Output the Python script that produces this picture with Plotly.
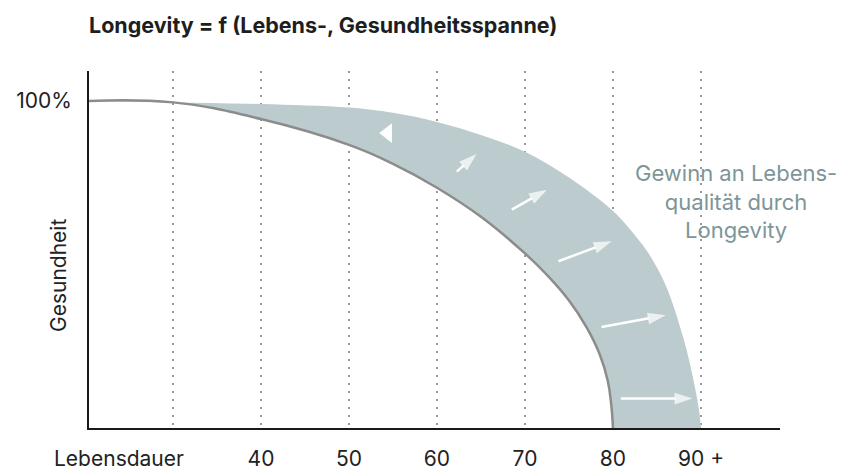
import plotly.graph_objects as go

# ---- data ----
lower_age = [20, 30, 40, 50, 55, 60, 65, 70, 72.5, 75, 77, 78.5, 79.4, 79.8, 80]
lower_health = [100, 99.6, 94.5, 86.6, 80.8, 73.5, 64.6, 53.4, 46.8, 39.0, 30.8, 22.5, 14.5, 7.2, 0]

upper_age = [30, 40, 50, 55, 60, 65, 70, 75, 80, 82, 84, 86, 88, 89.2, 89.8, 90]
upper_health = [99.6, 99.1, 98.0, 96.4, 93.6, 89.6, 84.5, 76.6, 66.4, 60.6, 53.6, 43.6, 27.5, 14.0, 5.0, 0]

grid_ages = [30, 40, 50, 60, 70, 80, 90]
grid_labels = ["", "40", "50", "60", "70", "80", "90 +"]

arrow_tail_x = [62.25, 68.5, 73.8, 78.7, 80.9]
arrow_tail_y = [78.4, 66.8, 51.0, 30.9, 9.0]
arrow_tip_x = [64.5, 72.5, 79.85, 86.0, 89.05]
arrow_tip_y = [83.8, 72.9, 57.1, 34.5, 9.0]

head_only_x = [54.4]
head_only_y = [90.2]

title_text = "Longevity = f (Lebens-, Gesundheitsspanne)"
x_title = "Lebensdauer"
y_title = "Gesundheit"
y_tick_vals = [100]
y_tick_text = ["100%"]
note_lines = ["Gewinn an Lebens-", "qualität durch", "Longevity"]

# ---- styling / layout ----
FONT = "Inter"
W, H = 843, 472
ML, MR, MT, MB = 89, 63, 71, 44
PW, PH = W - ML - MR, H - MT - MB
XR = [20.455, 98.98]
YR = [0, 109.2]


def px_x(p):
    return (p - ML) / PW


def px_y(p):
    return (H - MB - p) / PH


fig = go.Figure()

# lower health curve (drawn first so the band can fill to it)
fig.add_trace(go.Scatter(
    x=lower_age, y=lower_health, mode="lines",
    line=dict(color="#8c8c8a", width=2.5, shape="spline", smoothing=1.2),
    hoverinfo="skip", showlegend=False))

# band (gain in quality of life) between the two curves
fig.add_trace(go.Scatter(
    x=upper_age, y=upper_health, mode="lines",
    fill="tonexty", fillcolor="#bccbce",
    line=dict(width=0, shape="spline", smoothing=1.0),
    hoverinfo="skip", showlegend=False))

# white arrows
for tx, ty, hx, hy in zip(arrow_tail_x, arrow_tail_y, arrow_tip_x, arrow_tip_y):
    fig.add_trace(go.Scatter(
        x=[tx, hx], y=[ty, hy], mode="lines+markers",
        line=dict(color="white", width=2.5),
        marker=dict(symbol="arrow", angleref="previous", size=[0, 19],
                    color="white", line=dict(width=0)),
        hoverinfo="skip", showlegend=False))

fig.add_trace(go.Scatter(
    x=head_only_x, y=head_only_y, mode="markers",
    marker=dict(symbol="triangle-left", size=17, color="white", line=dict(width=0)),
    hoverinfo="skip", showlegend=False))

# axis arrow heads
xpx = (XR[1] - XR[0]) / PW
ypx = (YR[1] - YR[0]) / PH
fig.add_trace(go.Scatter(
    x=[XR[0] - 1 * xpx, XR[1] + 8 * xpx],
    y=[YR[1] + 9 * ypx, YR[0] - 1 * ypx],
    mode="markers", cliponaxis=False,
    marker=dict(symbol="arrow", angle=[0, 90], size=17, color="#1a1a1a", line=dict(width=0)),
    hoverinfo="skip", showlegend=False))

annotations = [
    dict(text=x_title, xref="paper", yref="paper",
         x=px_x(119), y=px_y(459), xanchor="center", yanchor="middle", showarrow=False,
         font=dict(size=21, color="#222222")),
    dict(text=y_title, xref="paper", yref="paper", textangle=-90,
         x=px_x(58), y=px_y(276), xanchor="center", yanchor="middle", showarrow=False,
         font=dict(size=21, color="#222222")),
    dict(text="<br>".join(note_lines), xref="paper", yref="paper",
         x=px_x(736), y=px_y(201), xanchor="center", yanchor="middle",
         showarrow=False, align="center",
         font=dict(size=22, color="#7d9598")),
]

fig.update_layout(
    width=W, height=H,
    margin=dict(l=ML, r=MR, t=MT, b=MB, autoexpand=False),
    paper_bgcolor="white", plot_bgcolor="white",
    font=dict(family=FONT, size=21, color="#222222"),
    title=dict(text="<b>" + title_text + "</b>", x=89 / W, xref="container", xanchor="left",
               y=1 - 25 / H, yref="container", yanchor="middle",
               font=dict(family=FONT, size=21.5, color="#1e1e1e")),
    xaxis=dict(range=XR, tickvals=grid_ages, ticktext=grid_labels, automargin=False,
               showgrid=True, gridcolor="#999999", gridwidth=2.2, griddash="2px,6px",
               zeroline=False, showline=True, linecolor="#1a1a1a", linewidth=2,
               ticks="outside", ticklen=11, tickcolor="rgba(0,0,0,0)",
               tickfont=dict(size=21, color="#222222"), fixedrange=True),
    yaxis=dict(range=YR, tickvals=y_tick_vals, ticktext=y_tick_text, automargin=False,
               showgrid=False, zeroline=False, showline=True, linecolor="#1a1a1a", linewidth=2,
               ticks="outside", ticklen=11, tickcolor="rgba(0,0,0,0)",
               tickfont=dict(size=21, color="#222222"), fixedrange=True),
    shapes=[dict(type="rect", xref="paper", yref="paper", layer="between",
                 x0=px_x(640), x1=px_x(W), y0=px_y(258), y1=px_y(155),
                 fillcolor="white", line=dict(width=0))],
    annotations=annotations,
)

fig.write_html("out.html", config={"displayModeBar": False},
               post_script="document.body.style.margin='0';")
